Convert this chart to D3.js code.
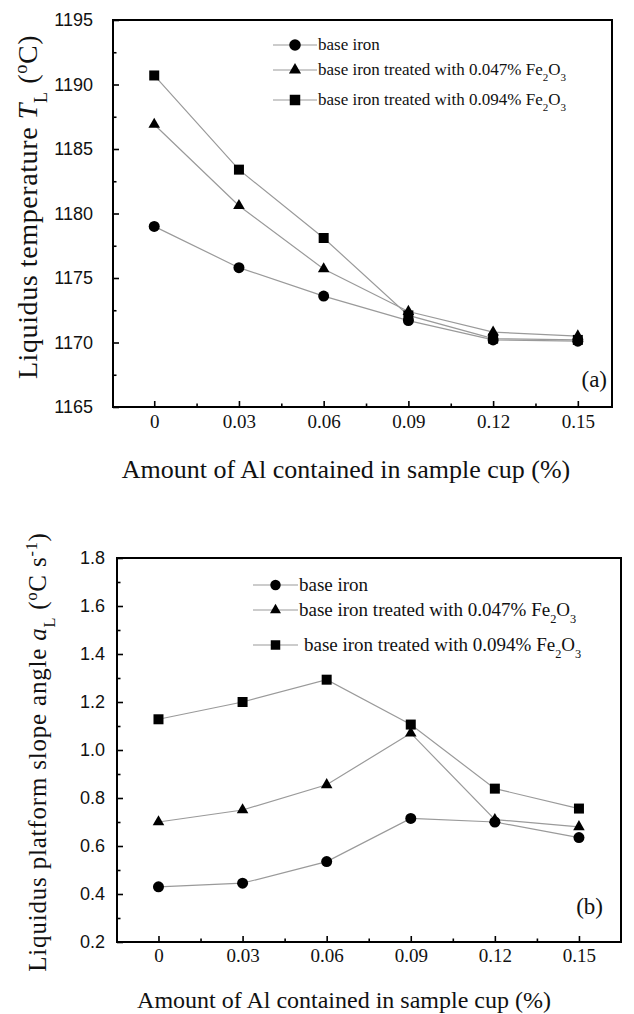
<!DOCTYPE html>
<html>
<head>
<meta charset="utf-8">
<script src="https://cdn.jsdelivr.net/npm/d3@7"></script>
<style>
  html, body { margin: 0; padding: 0; background: #fff; }
  svg { display: block; }
</style>
</head>
<body>
<svg id="chart" width="634" height="1014"></svg>
<script>
// ---------- data ----------
const alAmounts = [0, 0.03, 0.06, 0.09, 0.12, 0.15];
const xTickLabels = ["0", "0.03", "0.06", "0.09", "0.12", "0.15"];

// (a) liquidus temperature T_L (°C)
const tlBaseIron = [1179.0, 1175.8, 1173.6, 1171.7, 1170.2, 1170.1];
const tlFe047    = [1186.9, 1180.6, 1175.7, 1172.4, 1170.8, 1170.5];
const tlFe094    = [1190.7, 1183.4, 1178.1, 1172.1, 1170.3, 1170.2];
const tlTicks    = [1165, 1170, 1175, 1180, 1185, 1190, 1195];

// (b) liquidus platform slope angle a_L (°C s^-1)
const aBaseIron = [0.43, 0.445, 0.535, 0.715, 0.70, 0.635];
const aFe047    = [0.70, 0.75, 0.855, 1.07, 0.71, 0.68];
const aFe094    = [1.128, 1.20, 1.293, 1.106, 0.839, 0.756];
const aTicks    = [0.2, 0.4, 0.6, 0.8, 1.0, 1.2, 1.4, 1.6, 1.8];

const seriesLabels = [
  [["base iron", null]],
  [["base iron treated with 0.047% Fe", null], ["2", "sub"], ["O", null], ["3", "sub"]],
  [["base iron treated with 0.094% Fe", null], ["2", "sub"], ["O", null], ["3", "sub"]]
];
const seriesSymbols = ["circle", "triangle", "square"];

// ---------- drawing ----------
const svg = d3.select("#chart");
const SERIF = "'Liberation Serif','Times New Roman',serif";
const SANS = "'Liberation Sans',Arial,sans-serif";
const LINE_COLOR = "#9a9a9a";

function symbolPath(kind, scale) {
  const s = scale || 1;
  if (kind === "circle") return d3.symbol(d3.symbolCircle, 95 * s)();
  if (kind === "square") return d3.symbol(d3.symbolSquare, 100 * s)();
  return d3.symbol(d3.symbolTriangle, 58 * s)();
}

function addRichText(sel, parts, fontSize) {
  parts.forEach(([txt, kind]) => {
    const t = sel.append("tspan").text(txt);
    if (kind === "sub") t.attr("baseline-shift", "sub").attr("font-size", fontSize * 0.65);
    else if (kind === "sup") t.attr("baseline-shift", "super").attr("font-size", fontSize * 0.65);
    else if (kind === "it") t.attr("font-style", "italic");
  });
}

function drawPanel(cfg) {
  const g = svg.append("g");
  const x = d3.scaleLinear().domain(cfg.xDomain).range([cfg.left, cfg.right]);
  const y = d3.scaleLinear().domain(cfg.yDomain).range([cfg.bottom, cfg.top]);

  // minor ticks
  const xMinor = alAmounts.slice(0, -1).map((v, i) => (v + alAmounts[i + 1]) / 2);
  const yMinor = cfg.yTicks.slice(0, -1).map((v, i) => (v + cfg.yTicks[i + 1]) / 2);

  const xAxisMinor = g.append("g").attr("transform", `translate(0,${cfg.bottom})`)
    .call(d3.axisBottom(x).tickValues(xMinor).tickSize(-3.5).tickFormat(""));
  const yAxisMinor = g.append("g").attr("transform", `translate(${cfg.left},0)`)
    .call(d3.axisLeft(y).tickValues(yMinor).tickSize(-3.5).tickFormat(""));

  const xAxis = g.append("g").attr("transform", `translate(0,${cfg.bottom})`)
    .call(d3.axisBottom(x).tickValues(alAmounts).tickSize(-6).tickPadding(cfg.xPad)
      .tickFormat((d, i) => xTickLabels[i]));
  xAxis.selectAll("text").attr("font-family", SERIF).attr("font-size", 19).attr("fill", "#111");

  const yAxis = g.append("g").attr("transform", `translate(${cfg.left},0)`)
    .call(d3.axisLeft(y).tickValues(cfg.yTicks).tickSize(-6).tickPadding(cfg.yPad)
      .tickFormat(cfg.yFormat));
  yAxis.selectAll("text").attr("font-family", SANS).attr("font-size", 18).attr("fill", "#111");

  [xAxisMinor, yAxisMinor, xAxis, yAxis].forEach(a => {
    a.select(".domain").remove();
    a.selectAll(".tick line").attr("stroke", "#000").attr("stroke-width", 1.6);
  });

  // frame
  g.append("rect")
    .attr("x", cfg.left).attr("y", cfg.top)
    .attr("width", cfg.right - cfg.left).attr("height", cfg.bottom - cfg.top)
    .attr("fill", "none").attr("stroke", "#000").attr("stroke-width", 2);

  // series lines
  const line = d3.line().x((d, i) => x(alAmounts[i])).y(d => y(d));
  cfg.series.forEach(s => {
    g.append("path").datum(s).attr("d", line)
      .attr("fill", "none").attr("stroke", LINE_COLOR).attr("stroke-width", 1.2);
  });
  // series markers
  cfg.series.forEach((s, k) => {
    g.selectAll(null).data(s).enter().append("path")
      .attr("d", symbolPath(seriesSymbols[k]))
      .attr("transform", (d, i) => `translate(${x(alAmounts[i])},${y(d)})`)
      .attr("fill", "#000");
  });

  // legend
  cfg.legendRows.forEach((ry, k) => {
    const lg = g.append("g");
    lg.append("line").attr("x1", cfg.legX1).attr("x2", cfg.legX2).attr("y1", ry).attr("y2", ry)
      .attr("stroke", LINE_COLOR).attr("stroke-width", 1.2);
    lg.append("path").attr("d", symbolPath(seriesSymbols[k], cfg.legSymScale))
      .attr("transform", `translate(${(cfg.legX1 + cfg.legX2) / 2},${ry})`).attr("fill", "#000");
    const t = lg.append("text").attr("x", cfg.legTextX[k]).attr("y", ry + cfg.legFont * 0.32)
      .attr("font-family", SERIF).attr("font-size", cfg.legFont).attr("fill", "#111");
    addRichText(t, seriesLabels[k], cfg.legFont);
  });

  // panel tag
  g.append("text").attr("x", cfg.tagX).attr("y", cfg.tagY)
    .attr("text-anchor", "end")
    .attr("font-family", SERIF).attr("font-size", 23).attr("fill", "#111").text(cfg.tag);

  // x title
  g.append("text").attr("x", cfg.xTitleX).attr("y", cfg.xTitleY).attr("text-anchor", "middle")
    .attr("font-family", SERIF).attr("font-size", cfg.xTitleFont).attr("fill", "#111")
    .text("Amount of Al contained in sample cup (%)");

  // y title
  const yt = g.append("text")
    .attr("transform", `translate(${cfg.yTitleX},${cfg.yTitleY}) rotate(-90)`)
    .attr("text-anchor", "middle")
    .attr("font-family", SERIF).attr("font-size", cfg.yTitleFont)
    .attr("letter-spacing", cfg.yTitleSpacing).attr("fill", "#111");
  addRichText(yt, cfg.yTitleParts, cfg.yTitleFont);
}

drawPanel({
  left: 113, right: 612, top: 20, bottom: 407,
  xDomain: [-0.0146, 0.1621], yDomain: [1165, 1195],
  yTicks: tlTicks, yFormat: d => String(d),
  xPad: 8, yPad: 20,
  series: [tlBaseIron, tlFe047, tlFe094],
  legendRows: [45, 70, 100], legX1: 273, legX2: 317, legTextX: [318, 318, 318],
  legFont: 17, legSymScale: 1.1,
  tag: "(a)", tagX: 607, tagY: 387,
  xTitleX: 346, xTitleY: 478, xTitleFont: 26,
  yTitleX: 37, yTitleY: 207, yTitleFont: 28, yTitleSpacing: 0.6,
  yTitleParts: [["Liquidus temperature ", null], ["T", "it"], ["L", "sub"], [" (", null], ["o", "sup"], ["C)", null]]
});

drawPanel({
  left: 117, right: 621, top: 558, bottom: 942,
  xDomain: [-0.0148, 0.165], yDomain: [0.2, 1.8],
  yTicks: aTicks, yFormat: d3.format(".1f"),
  xPad: 7, yPad: 12,
  series: [aBaseIron, aFe047, aFe094],
  legendRows: [585, 610, 645], legX1: 253, legX2: 298, legTextX: [299, 299, 304],
  legFont: 19, legSymScale: 0.9,
  tag: "(b)", tagX: 603, tagY: 914,
  xTitleX: 344, xTitleY: 1008, xTitleFont: 24,
  yTitleX: 46, yTitleY: 752, yTitleFont: 25, yTitleSpacing: 0.8,
  yTitleParts: [["Liquidus platform slope angle ", null], ["a", "it"], ["L", "sub"], [" (", null], ["o", "sup"], ["C s", null], ["-1", "sup"], [")", null]]
});
</script>
</body>
</html>
